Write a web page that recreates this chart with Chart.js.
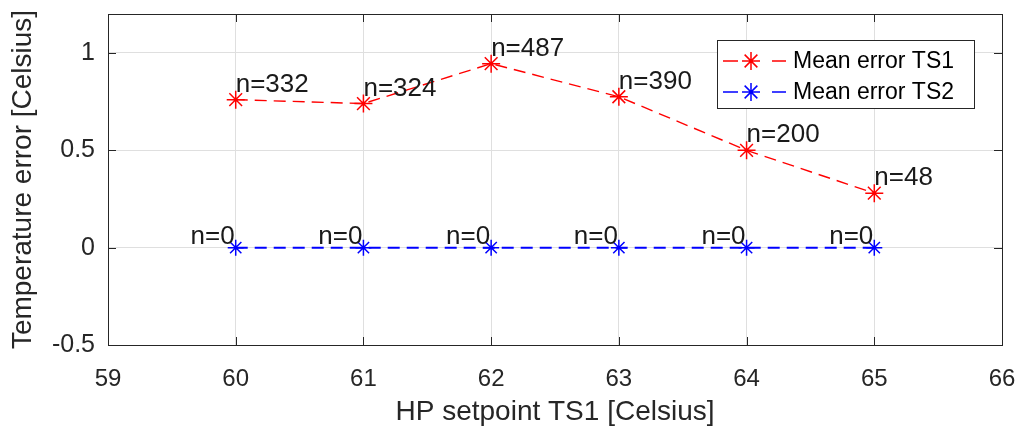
<!DOCTYPE html>
<html>
<head>
<meta charset="utf-8">
<script src="https://cdn.jsdelivr.net/npm/chart.js@4/dist/chart.umd.min.js"></script>
<style>
  html, body { margin: 0; padding: 0; background: #fff; }
  #wrap { width: 1021px; height: 427px; }
</style>
</head>
<body>
<div id="wrap"><canvas id="errChart" width="1021" height="427"></canvas></div>
<script>
// data
const setpoints = [60, 61, 62, 63, 64, 65];
const meanErrTS1 = [0.76, 0.74, 0.945, 0.775, 0.50, 0.28];
const meanErrTS2 = [0, 0, 0, 0, 0, 0];
const countsTS1 = [332, 324, 487, 390, 200, 48];
const countsTS2 = [0, 0, 0, 0, 0, 0];
const xTicks = [59, 60, 61, 62, 63, 64, 65, 66];
const yTicks = [-0.5, 0, 0.5, 1];
const seriesNames = ["Mean error TS1", "Mean error TS2"];

const axisColor = "#262626";
const gridColor = "#dfdfdf";
const font = "Liberation Sans, Arial, sans-serif";

function toPoints(xs, ys) {
  return xs.map((x, i) => ({ x: x, y: ys[i] }));
}

function star(ctx, x, y, r) {
  ctx.beginPath();
  for (let k = 0; k < 4; k++) {
    const a = k * Math.PI / 4;
    ctx.moveTo(x - r * Math.cos(a), y - r * Math.sin(a));
    ctx.lineTo(x + r * Math.cos(a), y + r * Math.sin(a));
  }
  ctx.stroke();
}

// box + inward ticks, like the matlab axes
const boxPlugin = {
  id: "box",
  afterDraw(chart) {
    const { ctx, chartArea: a, scales } = chart;
    ctx.save();
    ctx.strokeStyle = axisColor;
    ctx.lineWidth = 1;
    ctx.strokeRect(a.left + 0.5, a.top + 0.5, a.right - a.left, a.bottom - a.top);
    ctx.beginPath();
    xTicks.forEach(v => {
      const px = Math.round(scales.x.getPixelForValue(v)) + 0.5;
      ctx.moveTo(px, a.bottom); ctx.lineTo(px, a.bottom - 8);
      ctx.moveTo(px, a.top); ctx.lineTo(px, a.top + 8);
    });
    yTicks.forEach(v => {
      const py = Math.round(scales.y.getPixelForValue(v)) + 0.5;
      ctx.moveTo(a.left, py); ctx.lineTo(a.left + 8, py);
      ctx.moveTo(a.right, py); ctx.lineTo(a.right - 8, py);
    });
    ctx.stroke();
    ctx.restore();
  }
};

// n=... annotations
const countLabels = {
  id: "countLabels",
  afterDatasetsDraw(chart) {
    const { ctx, scales } = chart;
    ctx.save();
    ctx.fillStyle = "#1a1a1a";
    ctx.font = "26px " + font;
    setpoints.forEach((x, i) => {
      const px = scales.x.getPixelForValue(x);
      let py = scales.y.getPixelForValue(meanErrTS1[i]);
      ctx.textAlign = "left";
      ctx.textBaseline = "middle";
      ctx.fillText("n=" + countsTS1[i], px, py - 15);
      py = scales.y.getPixelForValue(meanErrTS2[i]);
      ctx.textAlign = "right";
      ctx.textBaseline = "alphabetic";
      ctx.fillText("n=" + countsTS2[i], px - 1, py - 4);
    });
    ctx.restore();
  }
};

// legend box inside the plot (top right)
const legendBox = {
  id: "legendBox",
  afterDraw(chart) {
    const { ctx } = chart;
    const colors = ["#ff0000", "#0000ff"];
    const x0 = 717, y0 = 40, w = 257, h = 68;
    ctx.save();
    ctx.fillStyle = "#fff";
    ctx.fillRect(x0, y0, w, h);
    ctx.strokeStyle = axisColor;
    ctx.lineWidth = 1;
    ctx.strokeRect(x0 + 0.5, y0 + 0.5, w, h);
    ctx.font = "23px " + font;
    ctx.textBaseline = "middle";
    ctx.textAlign = "left";
    [61, 92].forEach((ry, i) => {
      ctx.strokeStyle = colors[i];
      ctx.lineWidth = 1.5;
      ctx.beginPath();
      ctx.moveTo(723, ry); ctx.lineTo(738, ry);
      ctx.moveTo(772, ry); ctx.lineTo(786, ry);
      ctx.stroke();
      star(ctx, 751, ry, 9);
      ctx.fillStyle = "#000";
      ctx.fillText(seriesNames[i], 793, ry + 1);
    });
    ctx.restore();
  }
};

new Chart(document.getElementById("errChart"), {
  type: "scatter",
  data: {
    datasets: [
      {
        label: seriesNames[0],
        data: toPoints(setpoints, meanErrTS1),
        showLine: true,
        borderColor: "#ff0000",
        borderWidth: 1.4,
        borderDash: [12, 7],
        pointStyle: "star",
        pointRadius: 9,
        pointBorderColor: "#ff0000",
        pointBorderWidth: 1.5
      },
      {
        label: seriesNames[1],
        data: toPoints(setpoints, meanErrTS2),
        showLine: true,
        borderColor: "#0000ff",
        borderWidth: 2,
        borderDash: [12, 7],
        pointStyle: "star",
        pointRadius: 8,
        pointBorderColor: "#0000ff",
        pointBorderWidth: 1.5
      }
    ]
  },
  options: {
    responsive: false,
    animation: false,
    layout: { padding: { top: 14, right: 19, left: 0, bottom: 0 } },
    plugins: {
      legend: { display: false },
      tooltip: { enabled: false }
    },
    scales: {
      x: {
        type: "linear",
        min: 59,
        max: 66,
        afterBuildTicks: s => { s.ticks = xTicks.map(v => ({ value: v })); },
        afterFit: s => {
          s.height = 82;
          s.paddingLeft = 0;
          s.paddingRight = 0;
        },
        grid: { color: gridColor, drawTicks: false },
        border: { display: false },
        ticks: { color: axisColor, font: { size: 24, family: font }, padding: 20 },
        title: {
          display: true,
          text: "HP setpoint TS1 [Celsius]",
          color: axisColor,
          font: { size: 28, family: font, lineHeight: 1 },
          padding: { top: 0, bottom: 1 }
        }
      },
      y: {
        min: -0.5,
        max: 1.2,
        afterBuildTicks: s => { s.ticks = yTicks.map(v => ({ value: v })); },
        afterFit: s => {
          s.width = 108;
          s.paddingTop = 0;
          s.paddingBottom = 0;
        },
        grid: { color: gridColor, drawTicks: false },
        border: { display: false },
        ticks: {
          color: axisColor,
          font: { size: 25, family: font },
          padding: 13,
          callback: v => String(v)
        },
        title: {
          display: true,
          text: "Temperature error [Celsius]",
          color: axisColor,
          font: { size: 28, family: font },
          padding: { top: 6, bottom: 0 }
        }
      }
    }
  },
  plugins: [boxPlugin, countLabels, legendBox]
});
</script>
</body>
</html>
